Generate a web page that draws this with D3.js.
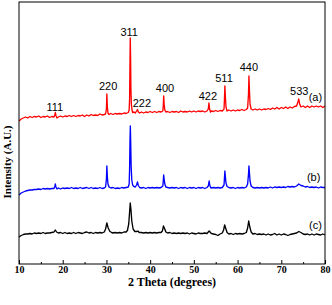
<!DOCTYPE html>
<html>
<head>
<meta charset="utf-8">
<script src="https://cdn.jsdelivr.net/npm/d3@7"></script>
<style>
  html, body { margin: 0; padding: 0; background: #fff; }
  svg { display: block; }
</style>
</head>
<body>
<svg id="chart" width="332" height="305"></svg>
<script>
// 2 theta (degrees), intensity (arbitrary units, offset per pattern)
var seriesA = [
  [10.0,143],[10.5,145],[11.0,146],[11.5,147],[12.0,146],[12.5,147.5],[13.0,146.5],[13.5,147.5],
  [14.0,147],[14.5,148],[15.0,146.5],[15.5,147.5],[16.0,147],[16.5,148],[17.0,146.5],[17.5,147.5],
  [18.0,147],[18.2,149],[18.3,151.5],[18.45,148.5],[18.7,146],[19.0,147],[19.5,148],[20.0,147],
  [20.5,148],[21.0,147.5],[21.5,148.5],[22.0,147.5],[22.5,148.5],[23.0,147.5],[23.5,148.5],[24.0,148],
  [24.5,149],[25.0,147.5],[25.5,149],[26.0,148],[26.5,149.5],[27.0,148.5],[27.5,149],[28.0,148.5],
  [28.5,150],[29.0,149],[29.5,149.5],[29.8,150],[30.0,155],[30.1,170],[30.2,158],[30.35,151],
  [30.6,149.5],[31.0,150.5],[31.5,149.5],[32.0,150.5],[32.5,150],[33.0,150.5],[33.5,150],[34.0,151],
  [34.5,150.5],[35.0,151.5],[35.2,154],[35.3,165],[35.4,205],[35.45,226],[35.52,210],[35.6,175],
  [35.7,160],[35.85,154],[36.0,151.5],[36.3,152],[36.6,151],[36.9,153],[37.1,154.5],[37.3,152],
  [37.6,151],[38.0,152],[38.5,151],[39.0,152],[39.5,151.5],[40.0,152.5],[40.5,151.5],[41.0,152.5],
  [41.5,151.5],[42.0,152.5],[42.5,152],[42.9,153],[43.0,158],[43.1,168],[43.2,160],[43.35,154],
  [43.6,152],[44.0,152.5],[44.5,151.5],[45.0,152.5],[45.5,152],[46.0,152.5],[46.5,151.5],[47.0,153],
  [47.5,152],[48.0,152.5],[48.5,152],[49.0,153],[49.5,152],[50.0,153],[50.5,152],[51.0,153],
  [51.5,152.5],[52.0,153],[52.5,152],[53.0,153],[53.3,155],[53.45,161],[53.6,155],[53.8,152],
  [54.0,153],[54.5,152.5],[55.0,153.5],[55.5,152.5],[56.0,153.5],[56.5,153],[56.9,155],[57.0,165],
  [57.1,178],[57.2,168],[57.35,157],[57.6,153],[58.0,154],[58.5,153],[59.0,154],[59.5,153],
  [60.0,154],[60.5,153.5],[61.0,154.5],[61.5,153.5],[62.0,154.5],[62.3,156],[62.5,170],[62.6,188],
  [62.7,175],[62.85,160],[63.1,155],[63.5,154],[64.0,155],[64.5,154],[65.0,155],[65.5,154],
  [66.0,155],[66.5,154.5],[67.0,155.5],[67.5,154.5],[68.0,156],[68.5,155],[69.0,156.5],[69.5,155],
  [70.0,156.5],[70.5,155.5],[71.0,157],[71.5,155.5],[72.0,157],[72.5,156],[73.0,157.5],[73.5,158],
  [73.8,162],[74.0,165],[74.2,160],[74.5,157],[75.0,158],[75.5,156.5],[76.0,158],[76.5,156.5],
  [77.0,158],[77.5,157],[78.0,158],[78.5,157],[79.0,158],[79.5,156.5],[80.0,158]
]

var seriesB = [
  [10.0,69],[10.5,71],[11.0,72],[11.5,73],[12.0,73.5],[12.5,74],[13.0,74],[13.5,74.5],
  [14.0,74.5],[14.5,75],[15.0,74.5],[15.5,75.5],[16.0,75],[16.5,75.5],[17.0,75],[17.5,75.5],
  [18.0,75.5],[18.2,77.5],[18.3,80],[18.45,77],[18.7,75],[19.0,76],[19.5,75],[20.0,76],
  [20.5,75.5],[21.0,76],[21.5,75.5],[22.0,76.5],[22.5,75.5],[23.0,76],[23.5,75.5],[24.0,76.5],
  [24.5,75.5],[25.0,76],[25.5,76.5],[26.0,75.5],[26.5,76.5],[27.0,75.5],[27.5,76],[28.0,75.5],
  [28.5,76.5],[29.0,75.5],[29.5,76],[29.8,77],[30.0,85],[30.1,98],[30.2,88],[30.35,80],
  [30.6,77],[31.0,76],[31.5,76.5],[32.0,75.5],[32.5,76],[33.0,75.5],[33.5,76.5],[34.0,76],
  [34.5,76.5],[35.0,77],[35.2,80],[35.3,95],[35.4,125],[35.47,138],[35.55,122],[35.65,98],
  [35.8,84],[36.0,79],[36.3,77.5],[36.6,77],[36.9,79],[37.1,82],[37.3,78.5],[37.6,76.5],
  [38.0,76],[38.5,76.5],[39.0,75.5],[39.5,76.5],[40.0,76],[40.5,76.5],[41.0,76],[41.5,76.5],
  [42.0,76],[42.5,76.5],[42.9,78],[43.0,83],[43.1,89],[43.2,85],[43.35,80],[43.6,77],
  [44.0,76.5],[44.5,76],[45.0,76.5],[45.5,76],[46.0,76.5],[46.5,75.5],[47.0,76.5],[47.5,76],
  [48.0,76.5],[48.5,75.5],[49.0,76.5],[49.5,76],[50.0,76.5],[50.5,75.5],[51.0,76.5],[51.5,76],
  [52.0,76.5],[52.5,75.5],[53.0,76.5],[53.3,78],[53.5,83],[53.65,78.5],[53.9,76],[54.5,76.5],
  [55.0,76],[55.5,76.5],[56.0,76],[56.5,76.5],[56.9,79],[57.0,86],[57.1,93],[57.2,88],
  [57.35,81],[57.6,77.5],[58.0,76.5],[58.5,76],[59.0,76.5],[59.5,75.5],[60.0,76.5],[60.5,76],
  [61.0,76.5],[61.5,76],[62.0,77],[62.3,80],[62.5,90],[62.6,98],[62.7,92],[62.85,83],
  [63.1,78],[63.5,76.5],[64.0,76],[64.5,76.5],[65.0,76],[65.5,76.5],[66.0,76],[66.5,76.5],
  [67.0,76],[67.5,77],[68.0,76],[68.5,77],[69.0,76.5],[69.5,77],[70.0,76.5],[70.5,77],
  [71.0,76.5],[71.5,77.5],[72.0,77],[72.5,77.5],[73.0,77],[73.5,78],[74.0,80],[74.5,78.5],
  [75.0,78],[75.5,77],[76.0,77.5],[76.5,76.5],[77.0,77],[77.5,76.5],[78.0,77],[78.5,76],
  [79.0,77],[79.5,76.5],[80.0,76.5]
]

var seriesC = [
  [10.0,27],[10.5,28.5],[11.0,29.5],[11.5,30],[12.0,30],[12.5,30.5],[13.0,30],[13.5,31],
  [14.0,30.5],[14.5,31],[15.0,30.5],[15.5,31.5],[16.0,30.5],[16.5,31],[17.0,31],[17.5,31.5],
  [18.0,32],[18.3,34],[18.6,32],[19.0,31],[19.5,31.5],[20.0,30.5],[20.5,31.5],[21.0,30.5],
  [21.5,31],[22.0,30.5],[22.5,31.5],[23.0,30.5],[23.5,31.5],[24.0,31],[24.5,30.5],[25.0,31.5],
  [25.5,32],[26.0,31],[26.5,31.5],[27.0,30.5],[27.5,31.5],[28.0,31],[28.5,31.5],[29.0,31],
  [29.5,32],[29.8,35],[30.1,41],[30.4,36],[30.8,32.5],[31.2,31.5],[31.5,31],[32.0,31.5],
  [32.5,31],[33.0,31.5],[33.5,31],[34.0,32],[34.5,32],[34.8,33.5],[35.1,40],[35.3,52],
  [35.45,61],[35.6,55],[35.8,43],[36.1,35],[36.5,32.5],[37.0,32.5],[37.2,33],[37.5,31.5],
  [38.0,31.5],[38.5,31],[39.0,31.5],[39.5,31],[40.0,31.5],[40.5,31],[41.0,31.5],[41.5,31],
  [42.0,31.5],[42.5,31.5],[42.8,33],[43.05,38],[43.3,35.5],[43.6,32],[44.0,31],[44.5,31.5],
  [45.0,30.5],[45.5,31],[46.0,30.5],[46.5,31],[47.0,30.5],[47.5,31],[48.0,30.5],[48.5,31],
  [49.0,30],[49.5,31],[50.0,30.5],[50.5,30],[51.0,31],[51.5,30.5],[52.0,30.5],[52.5,31],
  [53.0,30.5],[53.5,33],[54.0,30.5],[54.5,30],[55.0,29.5],[55.5,28.5],[56.0,30],[56.5,31],
  [56.8,34],[57.05,39],[57.3,35.5],[57.6,31.5],[58.0,30],[58.5,30.5],[59.0,29.5],[59.5,30.5],
  [60.0,30],[60.5,30.5],[61.0,30],[61.5,30.5],[62.0,31.5],[62.3,36],[62.55,43],[62.8,37],
  [63.1,32],[63.5,30],[64.0,30.5],[64.5,29.5],[65.0,30],[65.5,29.5],[66.0,30],[66.5,29],
  [67.0,30],[67.5,29],[68.0,29.5],[68.5,30.5],[69.0,29],[69.5,30],[70.0,29],[70.5,30],
  [71.0,29.5],[71.5,28.5],[72.0,29.5],[72.5,30],[73.0,30.5],[73.5,31],[74.0,32.5],[74.5,31.5],
  [75.0,30],[75.5,29.5],[76.0,30],[76.5,29],[77.0,30],[77.5,29],[78.0,30],[78.5,29.5],
  [79.0,29],[79.5,30],[80.0,29]
]

var seriesNames = ['(a)', '(b)', '(c)']
var seriesColors = ['#ff0000', '#0000ff', '#000000']
// where the series name sits (2 theta, intensity)
var nameTheta = [77.8, 77.4, 77.8]
var nameValue = [167, 87, 39]

// Miller indices above the peaks of pattern (a)
var hklLabels = ['111', '220', '311', '222', '400', '422', '511', '440', '533']
var hklTheta  = [18.2, 30.4, 35.2, 38.1, 43.4, 53.2, 56.9, 62.6, 74.1]
var hklValue  = [157, 178, 232, 161, 176, 168, 186, 197, 173]

var xTicks = [10, 20, 30, 40, 50, 60, 70, 80]
var xMinorTicks = [15, 25, 35, 45, 55, 65, 75]

var svg = d3.select('#chart'),
  margin = {top: 2, right: 7, bottom: 41, left: 19},
  width = +svg.attr('width') - margin.left - margin.right,
  height = +svg.attr('height') - margin.top - margin.bottom,
  g = svg.append('g').attr('transform', 'translate(' + margin.left + ',' + margin.top + ')')

var x = d3.scaleLinear().domain([10, 80]).range([0, width])
var y = d3.scaleLinear().domain([0, 262]).range([height, 0])

var line = d3.line()
  .x(function(d) { return x(d[0]) })
  .y(function(d) { return y(d[1]) })

g.selectAll('.pattern')
  .data([seriesA, seriesB, seriesC])
  .enter().append('path')
  .attr('class', 'pattern')
  .attr('d', line)
  .attr('fill', 'none')
  .attr('stroke', function(d, i) { return seriesColors[i] })
  .attr('stroke-width', 1.35)
  .attr('stroke-linejoin', 'round')

// bottom axis, ticks pointing inward
var xAxis = g.append('g')
  .attr('transform', 'translate(0,' + height + ')')
  .call(d3.axisBottom(x).tickValues(xTicks).tickSizeInner(-4).tickSizeOuter(0).tickPadding(2))
xAxis.select('.domain').remove()
xAxis.selectAll('text')
  .attr('font-family', '"Liberation Serif", "Times New Roman", serif')
  .attr('font-weight', 'bold')
  .attr('font-size', 10)
  .attr('fill', '#000')
xAxis.selectAll('line').attr('stroke', '#000')

var xMinor = g.append('g')
  .attr('transform', 'translate(0,' + height + ')')
  .call(d3.axisBottom(x).tickValues(xMinorTicks).tickSizeInner(-2).tickSizeOuter(0).tickFormat(''))
xMinor.select('.domain').remove()

// frame
g.append('rect')
  .attr('x', 0)
  .attr('y', 0)
  .attr('width', width)
  .attr('height', height)
  .attr('fill', 'none')
  .attr('stroke', '#000')
  .attr('stroke-width', 1)

g.append('g')
  .selectAll('text')
  .data(hklLabels)
  .enter().append('text')
  .attr('x', function(d, i) { return x(hklTheta[i]) })
  .attr('y', function(d, i) { return y(hklValue[i]) })
  .attr('dy', '0.35em')
  .attr('text-anchor', 'middle')
  .attr('font-family', '"Liberation Sans", Arial, sans-serif')
  .attr('font-size', 11)
  .attr('fill', '#000')
  .text(function(d) { return d })

g.append('g')
  .selectAll('text')
  .data(seriesNames)
  .enter().append('text')
  .attr('x', function(d, i) { return x(nameTheta[i]) })
  .attr('y', function(d, i) { return y(nameValue[i]) })
  .attr('dy', '0.35em')
  .attr('text-anchor', 'middle')
  .attr('font-family', '"Liberation Sans", Arial, sans-serif')
  .attr('font-size', 11)
  .attr('fill', '#000')
  .text(function(d) { return d })

svg.append('text')
  .attr('x', margin.left + width / 2)
  .attr('y', 286)
  .attr('text-anchor', 'middle')
  .attr('font-family', '"Liberation Serif", "Times New Roman", serif')
  .attr('font-weight', 'bold')
  .attr('font-size', 12)
  .text('2 Theta (degrees)')

svg.append('text')
  .attr('transform', 'translate(10.5,162) rotate(-90)')
  .attr('text-anchor', 'middle')
  .attr('font-family', '"Liberation Serif", "Times New Roman", serif')
  .attr('font-weight', 'bold')
  .attr('font-size', 11)
  .text('Intensity (A.U.)')
</script>
</body>
</html>
